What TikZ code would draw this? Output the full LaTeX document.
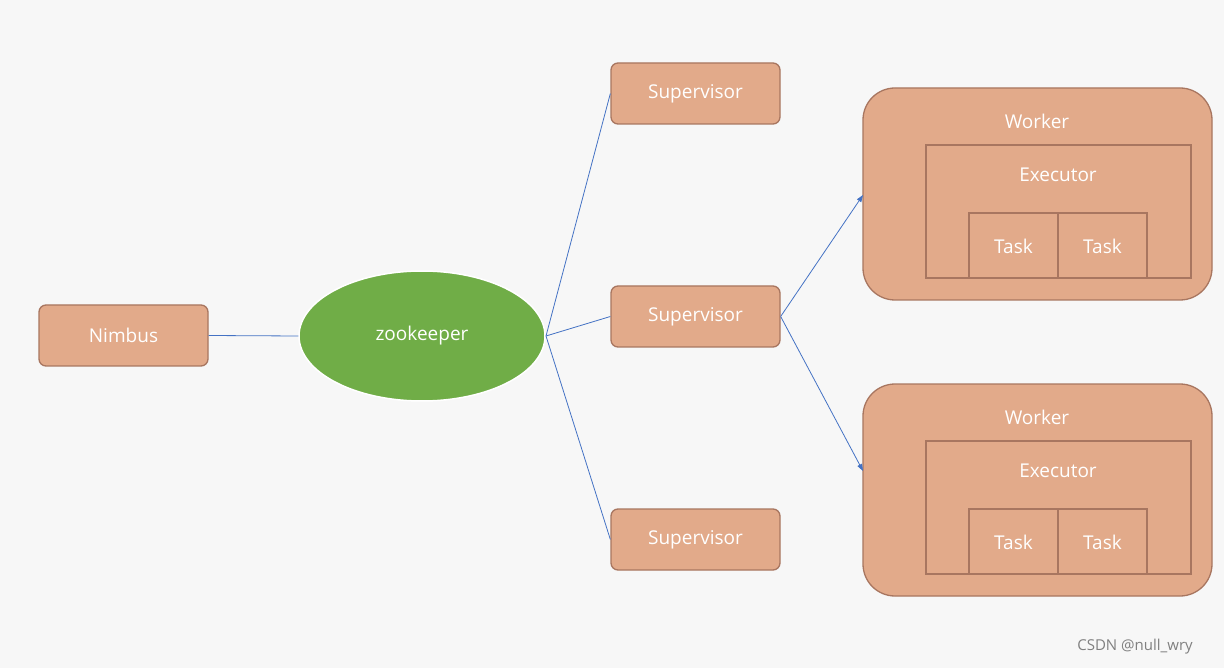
\documentclass[tikz,border=0pt]{standalone}
\usepackage{fontspec}
\setmainfont{Open Sans}
\usetikzlibrary{arrows.meta,shapes.geometric}
\definecolor{bg}{HTML}{F7F7F7}
\definecolor{box}{HTML}{E2AA8A}
\definecolor{boxd}{HTML}{A87660}
\definecolor{zk}{HTML}{70AD47}
\definecolor{ln}{HTML}{4472C4}
\begin{document}
\begin{tikzpicture}[x=1pt,y=-1pt,
 bx/.style={draw=boxd,fill=box,line width=1.3pt,rounded corners=7pt,text=white,font=\fontsize{19}{20}\selectfont},
 wk/.style={draw=boxd,fill=box,line width=1.3pt,rounded corners=32pt},
 inr/.style={draw=boxd,line width=1.2pt},
 lbl/.style={text=white,font=\fontsize{19}{20}\selectfont},
 con/.style={draw=ln,line width=0.8pt},
 arr/.style={con,-{Triangle[length=7pt,width=5pt]}}]
\fill[bg] (0,0) rectangle (1224,668);
\useasboundingbox (0,0) rectangle (1224,668);
\node[bx,minimum width=169pt,minimum height=61pt] (nim) at (123.5,335.5) {Nimbus};
\node[ellipse,draw=white,line width=1.5pt,fill=zk,minimum width=246pt,minimum height=130pt,lbl] (zk) at (422,336) {zookeeper};
\foreach \n/\y in {s1/93.5,s2/316.5,s3/539.5}
 \node[bx,minimum width=169pt,minimum height=61pt] (\n) at (695.5,\y) {Supervisor};
\foreach \n/\t in {w1/88,w2/384}{
 \draw[wk] (863,\t) rectangle (1212,\t+212);
 \node[lbl] (\n l) at (1037,\t+33) {Worker};
 \draw[inr] (926,\t+57) rectangle (1191,\t+190);
 \node[lbl] (\n e) at (1058,\t+87) {Executor};
 \draw[inr] (969,\t+125) rectangle (1058,\t+190);
 \draw[inr] (1058,\t+125) rectangle (1147,\t+190);
 \node[lbl] (\n a) at (1013.5,\t+158) {Task};
 \node[lbl] (\n b) at (1102.5,\t+158) {Task};
}
\coordinate (w1) at (863,195);
\coordinate (w2) at (863,471);
\coordinate (zr) at (546,336);
\draw[con] (nim.east) -- (zk.west);
\draw[con] (zr) -- (s1.west);
\draw[con] (zr) -- (s2.west);
\draw[con] (zr) -- (s3.west);
\draw[arr] (s2.east) -- (w1);
\draw[arr] (s2.east) -- (w2);
\node[text=gray,font=\fontsize{15}{16}\selectfont] (wm) at (1135,647) {CSDN @null\_wry};
\end{tikzpicture}
\end{document}
